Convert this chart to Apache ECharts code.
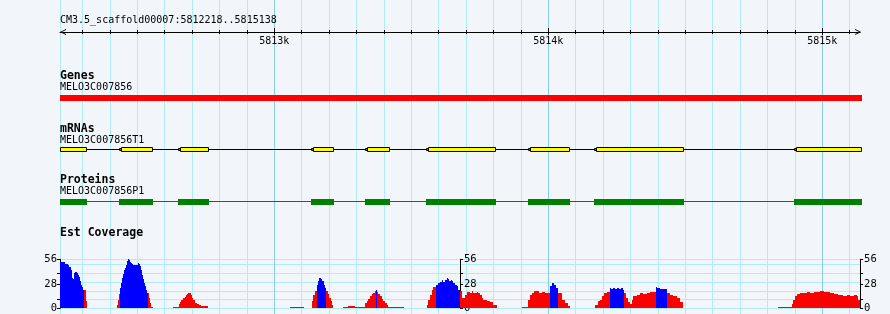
<!DOCTYPE html>
<html><head><meta charset="utf-8">
<script src="https://cdn.jsdelivr.net/npm/echarts@6/dist/echarts.min.js"></script>
<style>html,body{margin:0;padding:0;background:#f2f5fa}#c{width:890px;height:314px}</style>
</head><body><div id="c"></div>
<script>
// ---------- data ----------
const regionName = 'CM3.5_scaffold00007';
const regionStart = 5812218;
const regionEnd = 5815138;
const rulerLabelValues = [5813000, 5814000, 5815000];
const geneName = 'MELO3C007856';
const geneSpan = [5812218, 5815145];
const mrnaName = 'MELO3C007856T1';
const proteinName = 'MELO3C007856P1';
const exonStarts = [5812218, 5812433, 5812649, 5813134, 5813331, 5813554, 5813926, 5814167, 5814897];
const exonEnds   = [5812317, 5812557, 5812762, 5813218, 5813422, 5813809, 5814079, 5814495, 5815145];
const covMax = 56;
const covLabelValues = [0, 28, 56];
const covTickValues = [0, 10, 28, 40, 56];
// coverage steps: [offset from regionStart (bp), depth, 1 = blue / 0 = red]; last entry of a peak has depth 0
const peak1 = [[0,53,1],[17,51,1],[22,50.5,1],[29,49,1],[34,47,1],[39,43.5,1],[43,35,1],[46,33,1],[50,40,1],[54,41,1],[61,40,1],[66,38,1],[69,36,1],[73,31,1],[77,27,1],[80,24,1],[83,21,1],[86.5,20.5,0],[94,8,0],[98.5,0,0]];
const peak2 = [[208,4,0],[212,9,0],[215,16,0],[220,23,1],[224,29,1],[227.5,35,1],[231,39,1],[235,44,1],[238.5,46,1],[242,50,1],[246,54,1],[249.5,56,1],[253,55,1],[256.7,53,1],[260,52,1],[264,50.5,1],[267.6,49,1],[282,50,1],[286,51.7,1],[289.5,50.5,1],[293,48,1],[297,43.5,1],[300,38,1],[304,33,1],[308,29,1],[311.5,25,1],[315,21,1],[318.7,18,1],[322,18,0],[326,11.5,0],[329.6,6,0],[333,2,0],[338,0,0]];
const peak3 = [[414,1,0],[435,5,0],[439,7,0],[443,9,0],[446,10,0],[450,12,0],[455,13,0],[459,15,0],[462,16,0],[467,17,0],[477,15,0],[480,12,0],[484,10,0],[488,9,0],[492,6.5,0],[499,5,0],[506,4,0],[513,3,0],[539,0,0]];
const peak4 = [[840,1.2,0],[891,0,0],[919,8.5,0],[925,15,0],[931,20,0],[937,27,1],[941,31,1],[946,35,1],[952,33.5,1],[957,31,1],[963,27,1],[967,23,1],[971,20,0],[977,16,0],[983,11.5,0],[988,8,0],[993,4,0],[997.5,0,0]];
const peak5 = [[1034,2,0],[1052,2.7,0],[1077,2,0],[1113,5.8,0],[1119,8.5,0],[1125,11,0],[1131,14,0],[1138,16,0],[1143,18,0],[1150,19.7,0],[1153,21,1],[1157,19,0],[1162,16,0],[1168,14,0],[1174,11,0],[1180,8.5,0],[1186,6,0],[1192,3.5,0],[1198,2,0],[1204,1.5,0],[1256,0,0]];
const peak6 = [[1338,4,0],[1344,9.5,0],[1350,15,0],[1357,21,0],[1363,24,0],[1372,27,1],[1381,29,1],[1387,30,1],[1393,32,1],[1399,30,1],[1405,32,1],[1411,35,1],[1417,33,1],[1421,31,1],[1426,32,1],[1431,31,1],[1436,29,1],[1442,27,1],[1448,25,1],[1453,21,1],[1460,20,0],[1466,12,0],[1478,15,0],[1484,19,0],[1490,19,0],[1496,17,0],[1503,19.5,0],[1508,18,0],[1515,17,0],[1521,19,0],[1527,18,0],[1533,15,0],[1539,12,0],[1545,10,0],[1557,8.5,0],[1569,7,0],[1581,4,0],[1594,0,0]];
const peak7 = [[1685,2,0],[1709,9.5,0],[1716,15,0],[1722,18,0],[1730,19.5,0],[1749,18,0],[1758,19,0],[1770,18,0],[1788,25.5,1],[1795,29,1],[1803,27,1],[1810,23,1],[1818,17,0],[1831,9.5,0],[1843,6,0],[1855,2.5,0],[1861,0,0]];
const peak8 = [[1953,4,0],[1962,8,0],[1971,9.5,0],[1977,13.5,0],[1986,17,0],[1995,19,0],[2007,23.5,1],[2011,21.5,1],[2017,23.5,1],[2025,22.5,1],[2032,23.5,1],[2040,22.5,1],[2047,23.5,1],[2055,21,1],[2058,17,0],[2065,11.5,0],[2074,7,0],[2080,5,0],[2087,9.5,0],[2093,13.5,0],[2105,15,0],[2117,17,0],[2129,16.5,0],[2141,18,0],[2153,19,0],[2166,18.5,0],[2174,24.5,1],[2180,23,1],[2190,22.5,1],[2202,22,1],[2214,17,0],[2227,15,0],[2239,13.5,0],[2251,11.5,0],[2263,7.5,0],[2272,0,0]];
const peak9 = [[2622,1.2,0],[2670,5,0],[2676,10,0],[2683,13.5,0],[2689,16,0],[2701,18,0],[2716,17.5,0],[2726,18.5,0],[2737,18,0],[2750,19,0],[2774,19.7,0],[2789,18.5,0],[2810,17.4,0],[2823,16,0],[2841,15.4,0],[2859,14.5,0],[2872,15.4,0],[2883,14.5,0],[2896,15.4,0],[2908,13.5,0],[2914,9.5,0],[2920,0,0]];
const peaks = [peak1, peak2, peak3, peak4, peak5, peak6, peak7, peak8, peak9];

// ---------- layout / style ----------
const BG = '#f2f5fa', GRID_MINOR = '#afeeee', GRID_MAJOR = '#87ceeb';
const PX_PER_BP = 0.274;
const PLOT_LEFT = 60;
const PLOT_W = (regionEnd - regionStart) * PX_PER_BP;
const MONO = '"DejaVu Sans Mono", "Liberation Mono", monospace';

const minorTickValues = [];
for (let v = Math.ceil((regionStart + 1) / 100) * 100; v < regionEnd; v += 100) minorTickValues.push(v);

const covSegments = [];
peaks.forEach(p => {
  for (let i = 0; i < p.length - 1; i++) {
    if (p[i][1] > 0) covSegments.push([regionStart + p[i][0], regionStart + p[i + 1][0], p[i][1], p[i][2]]);
  }
});
const exonData = exonStarts.map((s, i) => [s, exonEnds[i], i]);

const minorMin = Math.floor(regionStart / 100) * 100, minorMax = Math.ceil(regionEnd / 100) * 100;
const majorMin = rulerLabelValues[0], majorMax = rulerLabelValues[rulerLabelValues.length - 1];

const grids = [
  {left: PLOT_LEFT - (regionStart - minorMin) * PX_PER_BP, top: 0, width: (minorMax - minorMin) * PX_PER_BP, height: 314},
  {left: PLOT_LEFT + (majorMin - regionStart) * PX_PER_BP, top: 0, width: (majorMax - majorMin) * PX_PER_BP, height: 314},
  {left: PLOT_LEFT, top: 0, width: PLOT_W, height: 314},
  {left: PLOT_LEFT, top: 32, width: PLOT_W, height: 10},
  {left: PLOT_LEFT, top: 95, width: PLOT_W, height: 6},
  {left: PLOT_LEFT, top: 147, width: PLOT_W, height: 5},
  {left: PLOT_LEFT, top: 199, width: PLOT_W, height: 6},
  {left: PLOT_LEFT, top: 259.3, width: PLOT_W, height: 49}
];

const hiddenX = g => ({type: 'value', gridIndex: g, min: regionStart, max: regionEnd, show: false});
const hiddenY = g => ({type: 'value', gridIndex: g, min: 0, max: 1, show: false});
const rulerAxis = (ticks, inside, len, withLine, withLabel) => ({
  type: 'value', gridIndex: 3, position: 'top', min: regionStart, max: regionEnd,
  axisLine: {show: withLine, onZero: false, lineStyle: {color: '#000', width: 1},
    symbol: ['path://M0,10L5,0L10,10L8.4,10L5,3.2L1.6,10Z', 'path://M0,10L5,0L10,10L8.4,10L5,3.2L1.6,10Z'],
    symbolSize: [9, 6], symbolOffset: [3, -2]},
  axisTick: {show: true, inside: inside, length: len, customValues: ticks, lineStyle: {color: '#000', width: 1}},
  axisLabel: {show: withLabel, inside: true, margin: 4, customValues: rulerLabelValues,
    formatter: v => (v / 1000) + 'k', color: '#000', fontFamily: MONO, fontSize: 10},
  splitLine: {show: false}
});
const covAxis = (pos, offset) => ({
  type: 'value', gridIndex: 7, position: pos, offset: offset, min: 0, max: covMax,
  axisLine: {show: true, onZero: false, lineStyle: {color: '#000', width: 1}},
  axisTick: {show: true, length: 3, customValues: covTickValues, lineStyle: {color: '#000'}},
  axisLabel: {show: true, margin: pos === 'left' ? 3 : 4, customValues: covLabelValues,
    color: '#000', fontFamily: MONO, fontSize: 10.5},
  splitLine: {show: false}
});

const xAxis = [
  {type: 'value', gridIndex: 0, min: minorMin, max: minorMax, interval: 100,
   axisLine: {show: false}, axisTick: {show: false}, axisLabel: {show: false},
   splitLine: {show: true, showMinLine: false, showMaxLine: false, lineStyle: {color: GRID_MINOR, width: 1}}},
  {type: 'value', gridIndex: 1, min: majorMin, max: majorMax, interval: 1000,
   axisLine: {show: false}, axisTick: {show: false}, axisLabel: {show: false},
   splitLine: {show: true, lineStyle: {color: GRID_MAJOR, width: 1}}},
  hiddenX(2),
  rulerAxis(minorTickValues, true, 2, true, true),
  rulerAxis(minorTickValues, false, 2, false, false),
  rulerAxis(rulerLabelValues, true, 3, false, false),
  rulerAxis(rulerLabelValues, false, 4, false, false),
  hiddenX(4), hiddenX(5), hiddenX(6), hiddenX(7)
];
const yAxis = [
  hiddenY(0), hiddenY(1),
  {type: 'value', gridIndex: 2, min: 0, max: 1, position: 'left',
   axisLine: {show: true, onZero: false, lineStyle: {color: GRID_MINOR}}, axisTick: {show: false},
   axisLabel: {show: false}, splitLine: {show: false}},
  hiddenY(3), hiddenY(4), hiddenY(5), hiddenY(6),
  {type: 'value', gridIndex: 7, min: 0, max: covMax, interval: 10,
   axisLine: {show: false}, axisTick: {show: false}, axisLabel: {show: false},
   splitLine: {show: true, showMaxLine: true, lineStyle: {color: GRID_MINOR, width: 1}}},
  covAxis('left', 0),
  covAxis('right', -PLOT_W / 2),
  covAxis('right', 0)
];

const label = (t, x, y, bold) => ({type: 'text', x: x, y: y, silent: true, z: 10,
  style: {text: t, fill: '#000', verticalAlign: 'top',
    font: (bold ? 'bold 11.5px ' : '10px ') + MONO}});

const series = [
  { // coverage
    type: 'custom', xAxisIndex: 10, yAxisIndex: 7, data: covSegments, z: 3,
    renderItem: (params, api) => {
      const a = api.coord([api.value(0), api.value(2)]);
      const b = api.coord([api.value(1), 0]);
      const x0 = Math.round(a[0]);
      let x1 = Math.round(b[0]);
      if (x1 <= x0) x1 = x0 + 1;
      const y0 = Math.round(a[1]), y1 = Math.round(b[1]);
      return {type: 'rect', shape: {x: x0, y: y0, width: x1 - x0, height: y1 - y0},
        style: {fill: api.value(3) ? '#0000ff' : '#ff0000'}};
    }
  },
  { // gene
    type: 'custom', xAxisIndex: 7, yAxisIndex: 4, data: [geneSpan], z: 3,
    renderItem: (params, api) => {
      const a = api.coord([api.value(0), 1]), b = api.coord([api.value(1), 0]);
      return {type: 'rect', shape: {x: Math.round(a[0]), y: a[1], width: Math.round(b[0]) - Math.round(a[0]), height: b[1] - a[1]},
        style: {fill: '#ff0000'}};
    }
  },
  { // mRNA backbone
    type: 'custom', xAxisIndex: 8, yAxisIndex: 5, data: [[exonStarts[0], exonEnds[exonEnds.length - 1]]], z: 3,
    renderItem: (params, api) => {
      const a = api.coord([api.value(0), 0.5]), b = api.coord([api.value(1), 0.5]);
      const y = Math.floor(a[1]) + 0.5;
      return {type: 'line', shape: {x1: a[0], y1: y, x2: b[0], y2: y}, style: {stroke: '#000', lineWidth: 1}};
    }
  },
  { // mRNA exons
    type: 'custom', xAxisIndex: 8, yAxisIndex: 5, data: exonData, z: 4,
    renderItem: (params, api) => {
      const a = api.coord([api.value(0), 1]), b = api.coord([api.value(1), 0]);
      const x0 = Math.round(a[0]), x1 = Math.round(b[0]);
      const y0 = Math.round(a[1]), y1 = Math.round(b[1]);
      const children = [];
      let bx = x0;
      if (api.value(2) > 0) {
        children.push({type: 'rect', shape: {x: x0 + 0.5, y: y0 + 1.5, width: 1.5, height: y1 - y0 - 3},
          style: {fill: '#ffff00', stroke: '#000', lineWidth: 1}});
        bx = x0 + 2;
      }
      children.push({type: 'rect', shape: {x: bx + 0.5, y: y0 + 0.5, width: x1 - bx - 1, height: y1 - y0 - 1},
        style: {fill: '#ffff00', stroke: '#000', lineWidth: 1}});
      return {type: 'group', children: children};
    }
  },
  { // protein backbone
    type: 'custom', xAxisIndex: 9, yAxisIndex: 6, data: [[exonStarts[0], exonEnds[exonEnds.length - 1]]], z: 3,
    renderItem: (params, api) => {
      const a = api.coord([api.value(0), 0.6]), b = api.coord([api.value(1), 0.6]);
      const y = Math.floor(a[1]) + 0.5;
      return {type: 'line', shape: {x1: a[0], y1: y, x2: b[0], y2: y}, style: {stroke: '#008000', lineWidth: 1}};
    }
  },
  { // protein CDS
    type: 'custom', xAxisIndex: 9, yAxisIndex: 6, data: exonData, z: 4,
    renderItem: (params, api) => {
      const a = api.coord([api.value(0), 1]), b = api.coord([api.value(1), 0]);
      const x0 = Math.round(a[0]), x1 = Math.round(b[0]);
      return {type: 'rect', shape: {x: x0, y: Math.round(a[1]), width: x1 - x0, height: Math.round(b[1]) - Math.round(a[1])},
        style: {fill: '#008000'}};
    }
  }
];

const chart = echarts.init(document.getElementById('c'), null, {renderer: 'canvas'});
chart.setOption({
  backgroundColor: BG,
  animation: false,
  grid: grids,
  xAxis: xAxis,
  yAxis: yAxis,
  series: series,
  graphic: [
    label(regionName + ':' + regionStart + '..' + regionEnd, 60, 15.8, false),
    label('Genes', 60, 70, true),
    label(geneName, 60, 82.8, false),
    label('mRNAs', 60, 123.3, true),
    label(mrnaName, 60, 135.2, false),
    label('Proteins', 60, 174.3, true),
    label(proteinName, 60, 186.8, false),
    label('Est Coverage', 60, 226.6, true)
  ]
});
</script>
</body></html>
